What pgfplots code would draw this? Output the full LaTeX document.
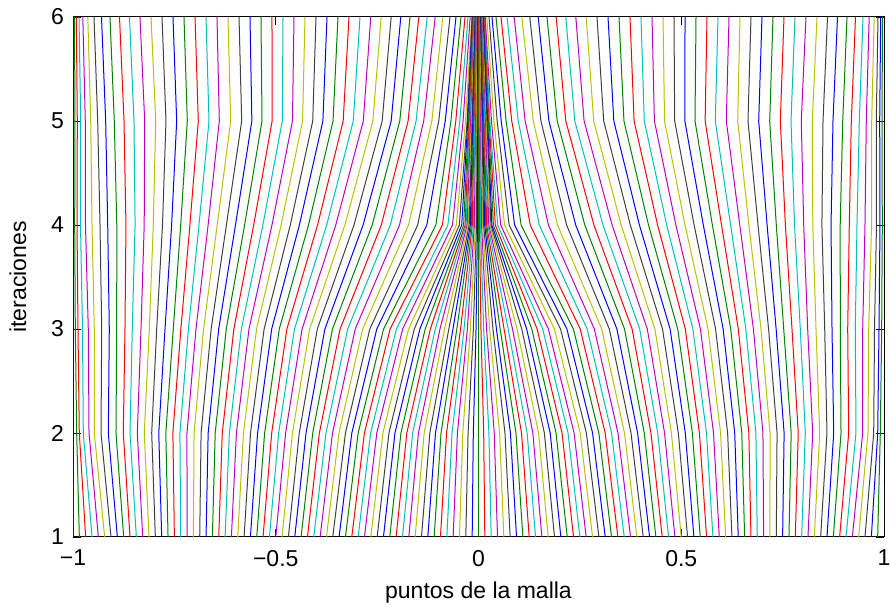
\documentclass[border=0pt]{standalone}
\usepackage{pgfplots}
\pgfplotsset{compat=1.18}
\usepackage{fontspec}
\setmainfont{Liberation Sans}
\definecolor{mb}{rgb}{0,0,1}
\definecolor{mg}{rgb}{0,0.5,0}
\definecolor{mr}{rgb}{1,0,0}
\definecolor{mc}{rgb}{0,0.75,0.75}
\definecolor{mm}{rgb}{0.75,0,0.75}
\definecolor{my}{rgb}{0.75,0.75,0}
\definecolor{mk}{rgb}{0.25,0.25,0.25}
\newcommand{\ML}[6]{\addplot coordinates {(#1,1)(#2,2)(#3,3)(#4,4)(#5,5)(#6,6)};}
\begin{document}
\begin{tikzpicture}
\begin{axis}[
  scale only axis, width=405.5pt, height=260pt,
  xmin=-1, xmax=1, ymin=1, ymax=6,
  xtick={-1,-0.5,0,0.5,1}, xticklabels={−1,−0.5,0,0.5,1},
  ytick={1,2,3,4,5,6}, yticklabels={1,2,3,4,5,6},
  tick align=inside, major tick length=4pt,
  tick style={black, line width=0.4pt},
  axis line style={black, line width=0.5pt},
  tick label style={font=\fontsize{11.5}{13}\selectfont},
  xticklabel style={yshift=-3pt},
  yticklabel style={xshift=-1pt},
  label style={font=\fontsize{11.5}{13}\selectfont},
  xlabel={puntos de la malla}, ylabel={iteraciones},
  xlabel style={yshift=-1pt}, ylabel style={yshift=5.5pt},
  cycle list={{mb,no markers},{mg,no markers},{mr,no markers},{mc,no markers},{mm,no markers},{my,no markers},{mk,no markers}},
  every axis plot/.append style={line width=0.5pt},
  clip=true,
]
\ML{-1}{-1}{-1}{-1}{-1}{-1}
\ML{-0.9844}{-0.9909}{-0.9943}{-0.9958}{-0.9951}{-0.9963}
\ML{-0.9688}{-0.9845}{-0.9877}{-0.9901}{-0.9894}{-0.9918}
\ML{-0.9531}{-0.9746}{-0.9766}{-0.9815}{-0.9810}{-0.9852}
\ML{-0.9375}{-0.9605}{-0.9623}{-0.9692}{-0.9697}{-0.9758}
\ML{-0.9219}{-0.9475}{-0.9475}{-0.9531}{-0.9563}{-0.9635}
\ML{-0.9063}{-0.9309}{-0.9292}{-0.9334}{-0.9391}{-0.9482}
\ML{-0.8906}{-0.9129}{-0.9105}{-0.9144}{-0.9194}{-0.9297}
\ML{-0.8750}{-0.8940}{-0.8922}{-0.8920}{-0.8982}{-0.9088}
\ML{-0.8594}{-0.8760}{-0.8718}{-0.8694}{-0.8742}{-0.8853}
\ML{-0.8438}{-0.8594}{-0.8538}{-0.8469}{-0.8496}{-0.8607}
\ML{-0.8281}{-0.8414}{-0.8323}{-0.8244}{-0.8232}{-0.8348}
\ML{-0.8125}{-0.8242}{-0.8118}{-0.8020}{-0.7960}{-0.8076}
\ML{-0.7969}{-0.8059}{-0.7936}{-0.7793}{-0.7707}{-0.7805}
\ML{-0.7813}{-0.7885}{-0.7731}{-0.7568}{-0.7443}{-0.7534}
\ML{-0.7656}{-0.7711}{-0.7527}{-0.7344}{-0.7181}{-0.7263}
\ML{-0.7500}{-0.7537}{-0.7340}{-0.7117}{-0.6910}{-0.6991}
\ML{-0.7344}{-0.7363}{-0.7154}{-0.6893}{-0.6646}{-0.6720}
\ML{-0.7188}{-0.7189}{-0.6967}{-0.6668}{-0.6392}{-0.6449}
\ML{-0.7031}{-0.7015}{-0.6780}{-0.6444}{-0.6111}{-0.6178}
\ML{-0.6875}{-0.6841}{-0.6593}{-0.6217}{-0.5840}{-0.5906}
\ML{-0.6719}{-0.6667}{-0.6407}{-0.5993}{-0.5589}{-0.5635}
\ML{-0.6563}{-0.6493}{-0.6220}{-0.5768}{-0.5339}{-0.5364}
\ML{-0.6406}{-0.6319}{-0.6033}{-0.5544}{-0.5089}{-0.5093}
\ML{-0.6250}{-0.6144}{-0.5847}{-0.5317}{-0.4838}{-0.4821}
\ML{-0.6094}{-0.5970}{-0.5660}{-0.5093}{-0.4588}{-0.4550}
\ML{-0.5938}{-0.5796}{-0.5473}{-0.4868}{-0.4338}{-0.4279}
\ML{-0.5781}{-0.5622}{-0.5287}{-0.4641}{-0.4088}{-0.4007}
\ML{-0.5625}{-0.5448}{-0.5100}{-0.4417}{-0.3837}{-0.3736}
\ML{-0.5469}{-0.5274}{-0.4913}{-0.4192}{-0.3587}{-0.3465}
\ML{-0.5313}{-0.5100}{-0.4725}{-0.3968}{-0.3337}{-0.3194}
\ML{-0.5156}{-0.4928}{-0.4538}{-0.3744}{-0.3088}{-0.2922}
\ML{-0.5000}{-0.4757}{-0.4350}{-0.3519}{-0.2841}{-0.2656}
\ML{-0.4844}{-0.4588}{-0.4163}{-0.3295}{-0.2604}{-0.2400}
\ML{-0.4688}{-0.4420}{-0.3975}{-0.3070}{-0.2375}{-0.2153}
\ML{-0.4531}{-0.4253}{-0.3788}{-0.2846}{-0.2153}{-0.1916}
\ML{-0.4375}{-0.4088}{-0.3601}{-0.2621}{-0.1941}{-0.1689}
\ML{-0.4219}{-0.3924}{-0.3413}{-0.2397}{-0.1736}{-0.1472}
\ML{-0.4063}{-0.3761}{-0.3226}{-0.2173}{-0.1539}{-0.1265}
\ML{-0.3906}{-0.3600}{-0.3039}{-0.1948}{-0.1351}{-0.1068}
\ML{-0.3750}{-0.3440}{-0.2857}{-0.1724}{-0.1150}{-0.0880}
\ML{-0.3594}{-0.3281}{-0.2680}{-0.1499}{-0.0980}{-0.0703}
\ML{-0.3438}{-0.3124}{-0.2508}{-0.1275}{-0.0820}{-0.0555}
\ML{-0.3281}{-0.2968}{-0.2341}{-0.1051}{-0.0680}{-0.0432}
\ML{-0.3125}{-0.2813}{-0.2180}{-0.0890}{-0.0560}{-0.0333}
\ML{-0.2969}{-0.2660}{-0.2023}{-0.0755}{-0.0460}{-0.0259}
\ML{-0.2813}{-0.2508}{-0.1871}{-0.0641}{-0.0380}{-0.0205}
\ML{-0.2656}{-0.2357}{-0.1724}{-0.0547}{-0.0320}{-0.0165}
\ML{-0.2500}{-0.2208}{-0.1583}{-0.0473}{-0.0280}{-0.0156}
\ML{-0.2344}{-0.2060}{-0.1446}{-0.0414}{-0.0263}{-0.0146}
\ML{-0.2188}{-0.1913}{-0.1314}{-0.0367}{-0.0245}{-0.0136}
\ML{-0.2031}{-0.1768}{-0.1188}{-0.0330}{-0.0228}{-0.0126}
\ML{-0.1875}{-0.1624}{-0.1066}{-0.0306}{-0.0210}{-0.0117}
\ML{-0.1719}{-0.1481}{-0.0950}{-0.0279}{-0.0193}{-0.0107}
\ML{-0.1563}{-0.1340}{-0.0838}{-0.0254}{-0.0175}{-0.0097}
\ML{-0.1406}{-0.1200}{-0.0732}{-0.0229}{-0.0158}{-0.0087}
\ML{-0.1250}{-0.1061}{-0.0630}{-0.0202}{-0.0140}{-0.0078}
\ML{-0.1094}{-0.0924}{-0.0534}{-0.0178}{-0.0123}{-0.0068}
\ML{-0.0938}{-0.0788}{-0.0442}{-0.0153}{-0.0105}{-0.0058}
\ML{-0.0781}{-0.0653}{-0.0356}{-0.0126}{-0.0088}{-0.0049}
\ML{-0.0625}{-0.0520}{-0.0275}{-0.0101}{-0.0070}{-0.0039}
\ML{-0.0469}{-0.0388}{-0.0199}{-0.0076}{-0.0053}{-0.0029}
\ML{-0.0313}{-0.0257}{-0.0127}{-0.0049}{-0.0035}{-0.0019}
\ML{-0.0156}{-0.0128}{-0.0061}{-0.0025}{-0.0018}{-0.0010}
\ML{0}{0}{0}{0}{0}{0}
\ML{0.0156}{0.0128}{0.0061}{0.0025}{0.0018}{0.0010}
\ML{0.0313}{0.0257}{0.0127}{0.0049}{0.0035}{0.0019}
\ML{0.0469}{0.0388}{0.0199}{0.0076}{0.0053}{0.0029}
\ML{0.0625}{0.0520}{0.0275}{0.0101}{0.0070}{0.0039}
\ML{0.0781}{0.0653}{0.0356}{0.0126}{0.0088}{0.0049}
\ML{0.0938}{0.0788}{0.0442}{0.0153}{0.0105}{0.0058}
\ML{0.1094}{0.0924}{0.0534}{0.0178}{0.0123}{0.0068}
\ML{0.1250}{0.1061}{0.0630}{0.0202}{0.0140}{0.0078}
\ML{0.1406}{0.1200}{0.0732}{0.0229}{0.0158}{0.0087}
\ML{0.1563}{0.1340}{0.0838}{0.0254}{0.0175}{0.0097}
\ML{0.1719}{0.1481}{0.0950}{0.0279}{0.0193}{0.0107}
\ML{0.1875}{0.1624}{0.1066}{0.0306}{0.0210}{0.0117}
\ML{0.2031}{0.1768}{0.1188}{0.0330}{0.0228}{0.0126}
\ML{0.2188}{0.1913}{0.1314}{0.0367}{0.0245}{0.0136}
\ML{0.2344}{0.2060}{0.1446}{0.0414}{0.0263}{0.0146}
\ML{0.2500}{0.2208}{0.1583}{0.0473}{0.0280}{0.0156}
\ML{0.2656}{0.2357}{0.1724}{0.0547}{0.0320}{0.0165}
\ML{0.2813}{0.2508}{0.1871}{0.0641}{0.0380}{0.0205}
\ML{0.2969}{0.2660}{0.2023}{0.0755}{0.0460}{0.0259}
\ML{0.3125}{0.2813}{0.2180}{0.0890}{0.0560}{0.0333}
\ML{0.3281}{0.2968}{0.2341}{0.1051}{0.0680}{0.0432}
\ML{0.3438}{0.3124}{0.2508}{0.1275}{0.0820}{0.0555}
\ML{0.3594}{0.3281}{0.2680}{0.1499}{0.0980}{0.0703}
\ML{0.3750}{0.3440}{0.2857}{0.1724}{0.1150}{0.0880}
\ML{0.3906}{0.3600}{0.3039}{0.1948}{0.1351}{0.1068}
\ML{0.4063}{0.3761}{0.3226}{0.2173}{0.1539}{0.1265}
\ML{0.4219}{0.3924}{0.3413}{0.2397}{0.1736}{0.1472}
\ML{0.4375}{0.4088}{0.3601}{0.2621}{0.1941}{0.1689}
\ML{0.4531}{0.4253}{0.3788}{0.2846}{0.2153}{0.1916}
\ML{0.4688}{0.4420}{0.3975}{0.3070}{0.2375}{0.2153}
\ML{0.4844}{0.4588}{0.4163}{0.3295}{0.2604}{0.2400}
\ML{0.5000}{0.4757}{0.4350}{0.3519}{0.2841}{0.2656}
\ML{0.5156}{0.4928}{0.4538}{0.3744}{0.3088}{0.2922}
\ML{0.5313}{0.5100}{0.4725}{0.3968}{0.3337}{0.3194}
\ML{0.5469}{0.5274}{0.4913}{0.4192}{0.3587}{0.3465}
\ML{0.5625}{0.5448}{0.5100}{0.4417}{0.3837}{0.3736}
\ML{0.5781}{0.5622}{0.5287}{0.4641}{0.4088}{0.4007}
\ML{0.5938}{0.5796}{0.5473}{0.4868}{0.4338}{0.4279}
\ML{0.6094}{0.5970}{0.5660}{0.5093}{0.4588}{0.4550}
\ML{0.6250}{0.6144}{0.5847}{0.5317}{0.4838}{0.4821}
\ML{0.6406}{0.6319}{0.6033}{0.5544}{0.5089}{0.5093}
\ML{0.6563}{0.6493}{0.6220}{0.5768}{0.5339}{0.5364}
\ML{0.6719}{0.6667}{0.6407}{0.5993}{0.5589}{0.5635}
\ML{0.6875}{0.6841}{0.6593}{0.6217}{0.5840}{0.5906}
\ML{0.7031}{0.7015}{0.6780}{0.6444}{0.6111}{0.6178}
\ML{0.7188}{0.7189}{0.6967}{0.6668}{0.6392}{0.6449}
\ML{0.7344}{0.7363}{0.7154}{0.6893}{0.6646}{0.6720}
\ML{0.7500}{0.7537}{0.7340}{0.7117}{0.6910}{0.6991}
\ML{0.7656}{0.7711}{0.7527}{0.7344}{0.7181}{0.7263}
\ML{0.7813}{0.7885}{0.7731}{0.7568}{0.7443}{0.7534}
\ML{0.7969}{0.8059}{0.7936}{0.7793}{0.7707}{0.7805}
\ML{0.8125}{0.8242}{0.8118}{0.8020}{0.7960}{0.8076}
\ML{0.8281}{0.8414}{0.8323}{0.8244}{0.8232}{0.8348}
\ML{0.8438}{0.8594}{0.8538}{0.8469}{0.8496}{0.8607}
\ML{0.8594}{0.8760}{0.8718}{0.8694}{0.8742}{0.8853}
\ML{0.8750}{0.8940}{0.8922}{0.8920}{0.8982}{0.9088}
\ML{0.8906}{0.9129}{0.9105}{0.9144}{0.9194}{0.9297}
\ML{0.9063}{0.9309}{0.9292}{0.9334}{0.9391}{0.9482}
\ML{0.9219}{0.9475}{0.9475}{0.9531}{0.9563}{0.9635}
\ML{0.9375}{0.9605}{0.9623}{0.9692}{0.9697}{0.9758}
\ML{0.9531}{0.9746}{0.9766}{0.9815}{0.9810}{0.9852}
\ML{0.9688}{0.9845}{0.9877}{0.9901}{0.9894}{0.9918}
\ML{0.9844}{0.9909}{0.9943}{0.9958}{0.9951}{0.9963}
\ML{1}{1}{1}{1}{1}{1}
\end{axis}
\pgfresetboundingbox
\path ([xshift=-36.5pt,yshift=-35pt]current axis.south west) rectangle ([xshift=3pt,yshift=8.5pt]current axis.north east);
\end{tikzpicture}
\end{document}
